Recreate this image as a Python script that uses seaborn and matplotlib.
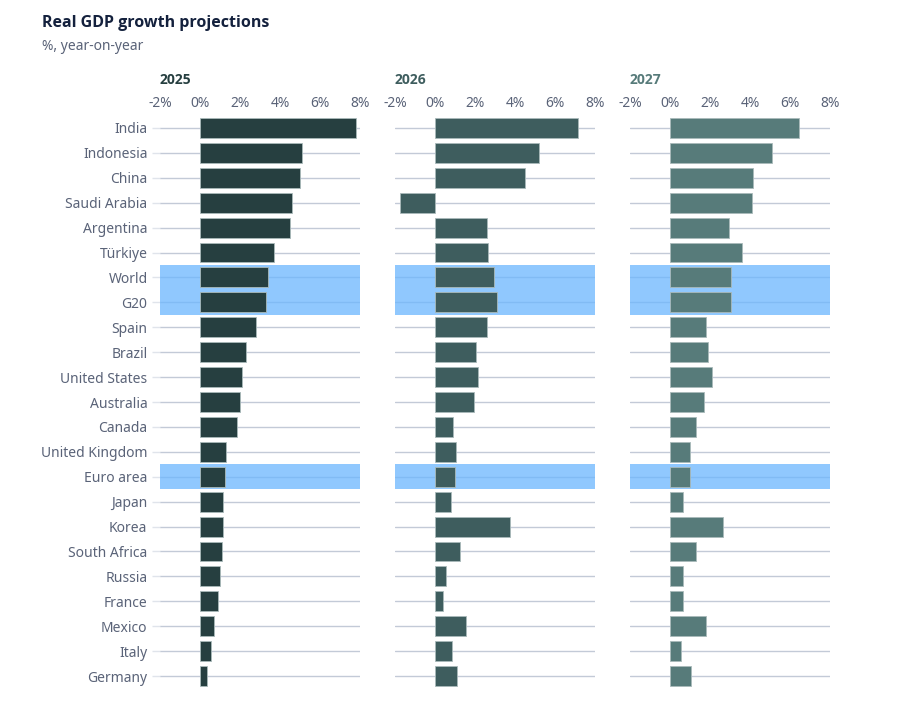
import numpy as np
import pandas as pd
import matplotlib
matplotlib.use("Agg")
from matplotlib import pyplot as plt
import seaborn as sns

countries = ["India", "Indonesia", "China", "Saudi Arabia", "Argentina", "Türkiye",
             "World", "G20", "Spain", "Brazil", "United States", "Australia", "Canada",
             "United Kingdom", "Euro area", "Japan", "Korea", "South Africa", "Russia",
             "France", "Mexico", "Italy", "Germany"]

gdp_2025 = [7.8, 5.1, 5.0, 4.6, 4.5, 3.7, 3.4, 3.3, 2.8, 2.3, 2.1, 2.0, 1.85, 1.3, 1.25,
            1.15, 1.15, 1.1, 1.0, 0.88, 0.72, 0.53, 0.33]
gdp_2026 = [7.15, 5.2, 4.5, -1.75, 2.6, 2.65, 2.95, 3.1, 2.6, 2.05, 2.15, 1.95, 0.9, 1.05,
            0.98, 0.82, 3.75, 1.25, 0.56, 0.42, 1.55, 0.87, 1.1]
gdp_2027 = [6.45, 5.1, 4.15, 4.1, 2.95, 3.6, 3.05, 3.05, 1.8, 1.92, 2.12, 1.68, 1.3, 0.98,
            1.0, 0.65, 2.65, 1.3, 0.65, 0.65, 1.8, 0.54, 1.05]

years = ["2025", "2026", "2027"]
highlighted = ["World", "G20", "Euro area"]
tick_vals = [-2, 0, 2, 4, 6, 8]
tick_labels = ["-2%", "0%", "2%", "4%", "6%", "8%"]

df = pd.DataFrame({"country": countries, "2025": gdp_2025, "2026": gdp_2026, "2027": gdp_2027})

bar_colors = ["#263f40", "#3e5d5e", "#577b7a"]
year_colors = ["#263f40", "#3e5d5e", "#577b7a"]
label_color = "#5a6378"
grid_color = "#c3cad7"
bold_family = ["Open Sans", "DejaVu Sans"]

sns.set_theme(style="white")
plt.rcParams["font.family"] = ["Noto Sans", "DejaVu Sans"]

fig = plt.figure(figsize=(8.99, 7.06), dpi=100)
lefts = [160 / 899, 395 / 899, 630 / 899]
bottom = (706 - 688.5) / 706
height = 573 / 706
width = 200 / 899

for i, year in enumerate(years):
    ax = fig.add_axes([lefts[i], bottom, width, height])
    ax.set_axisbelow(True)
    sns.barplot(data=df, x=year, y="country", orient="h", color=bar_colors[i],
                saturation=1, width=0.8, ax=ax, zorder=3,
                edgecolor="#a9baba", linewidth=0.6)
    ax.set_xlim(-2, 8)
    ax.set_ylim(len(countries) - 0.5, -0.5)
    ax.grid(axis="y", color=grid_color, linewidth=1, zorder=0)
    ax.grid(axis="x", visible=False)
    for name in highlighted:
        k = countries.index(name)
        ax.axhspan(k - 0.5, k + 0.5, color="#6bb6fe", alpha=0.75, lw=0, zorder=1)
    for s in ax.spines.values():
        s.set_visible(False)
    ax.xaxis.tick_top()
    ax.set_xticks(tick_vals)
    ax.set_xticklabels(tick_labels)
    ax.tick_params(axis="x", length=0, pad=3, labelsize=10, labelcolor=label_color)
    ax.set_xlabel("")
    ax.set_ylabel("")
    if i == 0:
        ax.tick_params(axis="y", length=6, width=1, color="#e0e4eb", pad=3,
                       labelsize=10, labelcolor=label_color, left=True)
    else:
        ax.tick_params(axis="y", left=False, labelleft=False)
    fig.text(lefts[i], 1 - 80 / 706, year, fontsize=10, fontweight="bold",
             family=bold_family, color=year_colors[i], ha="left", va="center")

fig.text(42 / 899, 1 - 23 / 706, "Real GDP growth projections", fontsize=11.5,
         fontweight="bold", family=bold_family, color="#14213d", ha="left", va="center")
fig.text(42 / 899, 1 - 46 / 706, "%, year-on-year", fontsize=10, color=label_color,
         ha="left", va="center")

fig.savefig("out.png", dpi=100, facecolor="white")
